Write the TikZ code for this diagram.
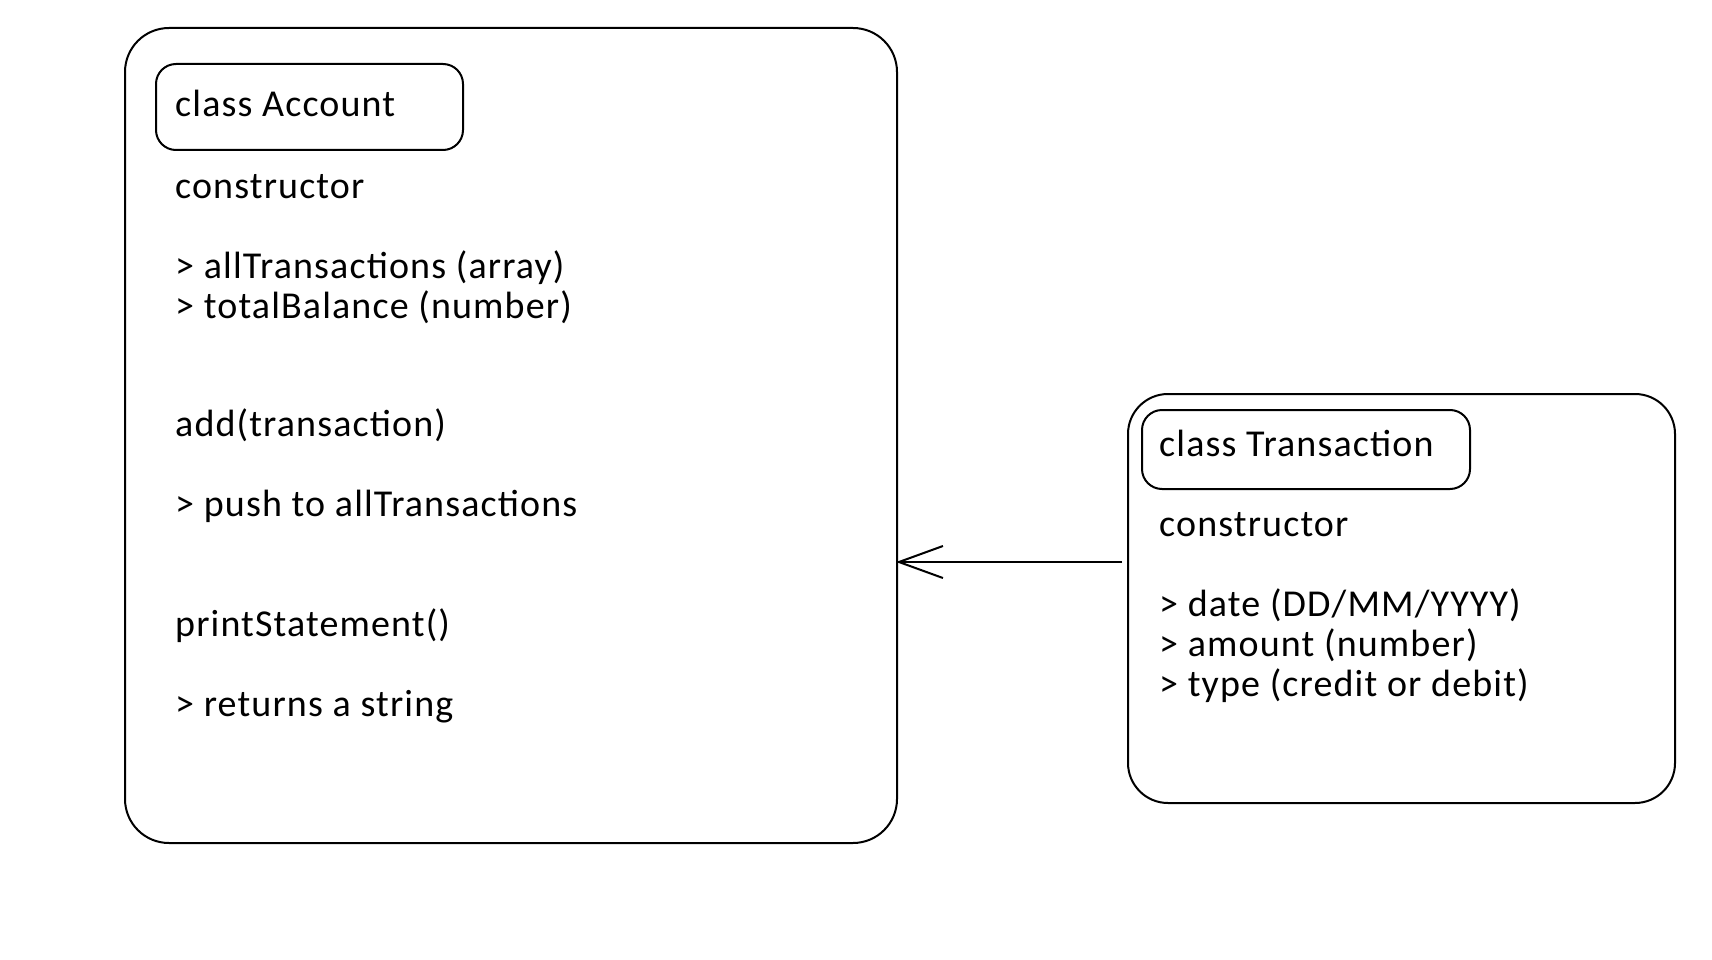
\documentclass[tikz,border=0pt]{standalone}
\usepackage{fontspec}
\setmainfont{Carlito}[LetterSpace=3]
\usetikzlibrary{arrows.meta}
\begin{document}
\begin{tikzpicture}[x=1pt,y=-1pt,
  outerbox/.style={draw=black, line width=2pt, rounded corners=44pt, inner sep=0pt, anchor=north west},
  titlebox/.style={draw=black, line width=2pt, rounded corners=20pt, inner sep=0pt, anchor=north west},
  txt/.style={anchor=base west, inner sep=0pt, font=\fontsize{38}{46}\selectfont, text=black},
  arr/.style={draw=black, line width=2pt, -{Straight Barb[length=44pt,width=32pt]}}]
\useasboundingbox[fill=white] (0,0) rectangle (1712,960);
% Account
\node[outerbox, minimum width=772pt, minimum height=815pt] (acc) at (124,27) {};
\node[titlebox, minimum width=307pt, minimum height=86pt] (acct) at (155,63) {};
\node[txt] (a0) at (175,117) {class Account};
\node[txt] (a1) at (175,198) {constructor};
\node[txt] (a2) at (175,278) {> allTransactions (array)};
\node[txt] (a3) at (175,318) {> totalBalance (number)};
\node[txt] (a4) at (175,436) {add(transaction)};
\node[txt] (a5) at (175,516) {> push to allTransactions};
\node[txt] (a6) at (175,636) {printStatement()};
\node[txt] (a7) at (175,716) {> returns a string};
% Transaction
\node[outerbox, rounded corners=40pt, minimum width=547pt, minimum height=409pt] (tr) at (1127,393) {};
\node[titlebox, minimum width=328pt, minimum height=79pt] (trt) at (1141,409) {};
\node[txt] (t0) at (1159,456) {class Transaction};
\node[txt] (t1) at (1159,536) {constructor};
\node[txt] (t2) at (1159,616) {> date (DD/MM/YYYY)};
\node[txt] (t3) at (1159,656) {> amount (number)};
\node[txt] (t4) at (1159,696) {> type (credit or debit)};
% connector
\coordinate (ay) at (1000,562);
\draw[arr] ([xshift=-5pt]tr.west |- ay) -- ([xshift=-2pt]acc.east |- ay);
\end{tikzpicture}
\end{document}
